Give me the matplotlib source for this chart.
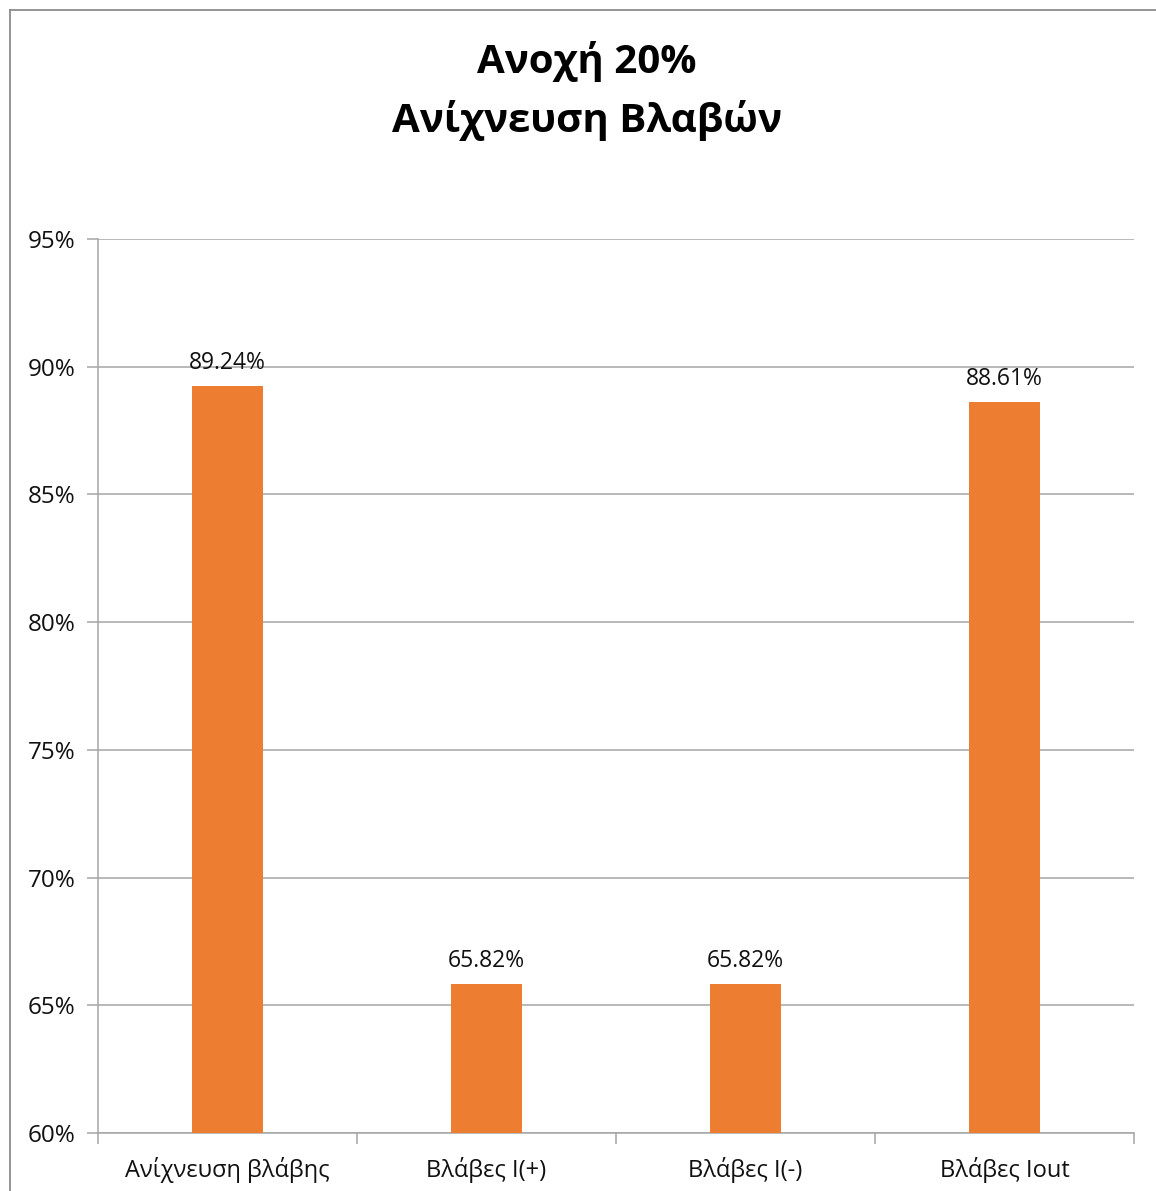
import matplotlib
matplotlib.use("Agg")
import matplotlib.pyplot as plt
from matplotlib.lines import Line2D
import numpy as np

categories = ["Ανίχνευση βλάβης", "Βλάβες I(+)", "Βλάβες I(-)", "Βλάβες Iout"]
values = [89.24, 65.82, 65.82, 88.61]
y_ticks = [60, 65, 70, 75, 80, 85, 90, 95]
title = "Ανοχή 20%\nΑνίχνευση Βλαβών"

bar_color = "#ED7D31"
grid_color = "#A6A6A6"
font = ["Open Sans", "DejaVu Sans"]

plt.rcParams["font.family"] = font

fig = plt.figure(figsize=(11.56, 11.91), dpi=100)
ax = fig.add_axes([98 / 1156, 58 / 1191, 1036 / 1156, 894 / 1191])

x = np.arange(len(categories))
ax.bar(x, values, width=0.274, color=bar_color, zorder=3)

for xi, v in zip(x, values):
    ax.annotate(f"{v:.2f}%", (xi, v), xytext=(0, 8), textcoords="offset points",
                ha="center", va="bottom", fontsize=16.5, color="#111111")

ax.set_xlim(-0.5, len(categories) - 0.5)
ax.set_ylim(60, 95)
ax.set_yticks(y_ticks)
ax.set_yticklabels([f"{t}%" for t in y_ticks])
ax.yaxis.grid(True, color=grid_color, linewidth=1.1, zorder=0)

ax.set_xticks(x)
ax.set_xticklabels(categories)
ax.set_xticks(np.arange(len(categories) + 1) - 0.5, minor=True)
ax.tick_params(axis="x", which="major", length=0, pad=17, labelsize=17, labelcolor="#111111")
ax.tick_params(axis="x", which="minor", length=8, width=1.1, color=grid_color)
ax.tick_params(axis="y", length=8, width=1.1, color=grid_color, pad=8,
               labelsize=17.5, labelcolor="#111111")

for side in ["top", "right"]:
    ax.spines[side].set_visible(False)
for side in ["left", "bottom"]:
    ax.spines[side].set_color(grid_color)
    ax.spines[side].set_linewidth(1.1)

fig.text(587 / 1156, 1 - 91 / 1191, title, ha="center", va="center",
         fontsize=29, fontweight="bold", linespacing=1.55, color="#000000")

# outer chart frame (top and left edges)
fig.add_artist(Line2D([9.5 / 1156, 9.5 / 1156], [0, 1 - 9.5 / 1191],
                      transform=fig.transFigure, color="#8C8C8C", linewidth=1.3))
fig.add_artist(Line2D([9.5 / 1156, 1], [1 - 9.5 / 1191, 1 - 9.5 / 1191],
                      transform=fig.transFigure, color="#8C8C8C", linewidth=1.3))

fig.savefig("out.png", dpi=100, facecolor="white")
